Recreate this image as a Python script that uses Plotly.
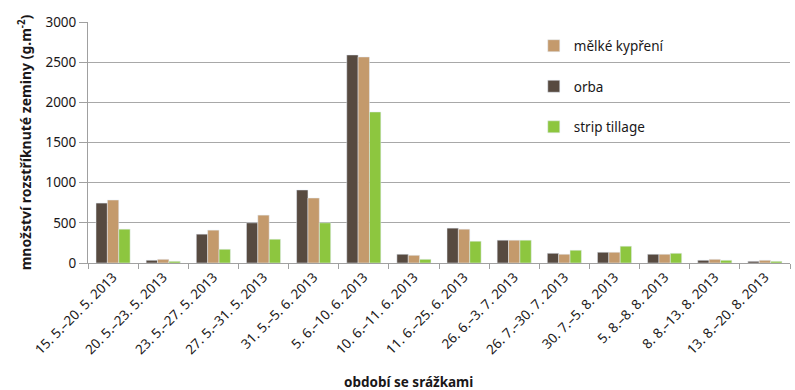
import plotly.graph_objects as go

# Rain periods (x categories)
periods = [
    "15. 5.–20. 5. 2013", "20. 5.–23. 5. 2013", "23. 5.–27. 5. 2013",
    "27. 5.–31. 5. 2013", "31. 5.–5. 6. 2013", "5. 6.–10. 6. 2013",
    "10. 6.–11. 6. 2013", "11. 6.–25. 6. 2013", "26. 6.–3. 7. 2013",
    "26. 7.–30. 7. 2013", "30. 7.–5. 8. 2013", "5. 8.–8. 8. 2013",
    "8. 8.–13. 8. 2013", "13. 8.–20. 8. 2013",
]

# Splashed soil amount (g.m-2) per tillage variant
orba = [746, 34, 359, 500, 909, 2590, 109, 434, 284, 121, 134, 109, 34, 21]
melke_kypreni = [784, 46, 409, 596, 809, 2565, 96, 421, 284, 109, 134, 109, 46, 34]
strip_tillage = [421, 21, 171, 296, 500, 1880, 46, 271, 284, 159, 209, 121, 34, 21]

y_ticks = [0, 500, 1000, 1500, 2000, 2500, 3000]

FONT = "Noto Sans"
TEXT = "#1a1718"

fig = go.Figure()
fig.add_trace(go.Bar(x=periods, y=orba, name="orba", marker_color="#574a40",
                     legendrank=2, legendgroup="b"))
fig.add_trace(go.Bar(x=periods, y=melke_kypreni, name="mělké kypření", marker_color="#c49a6c",
                     legendrank=1, legendgroup="a"))
fig.add_trace(go.Bar(x=periods, y=strip_tillage, name="strip tillage", marker_color="#8dc63f",
                     legendrank=3, legendgroup="c"))

plot_w = 795 - 88 - 5
plot_h = 390 - 22 - 127

fig.update_layout(
    width=795, height=390,
    margin=dict(l=88, r=5, t=22, b=127),
    paper_bgcolor="white", plot_bgcolor="white",
    font=dict(family=FONT, size=13, color=TEXT),
    barmode="group", bargap=0.32, bargroupgap=0,
    showlegend=True,
    legend=dict(x=0.635, y=0.965, xanchor="left", yanchor="top",
                bgcolor="rgba(0,0,0,0)", tracegroupgap=20, itemwidth=30,
                font=dict(family=FONT, size=13.5, color=TEXT)),
    annotations=[dict(text="<b>období se srážkami</b>",
                      x=(408 - 88) / plot_w, xref="paper", xanchor="center",
                      y=(263 - 382) / plot_h, yref="paper", yanchor="middle",
                      showarrow=False, font=dict(family=FONT, size=13.5, color=TEXT))],
)

fig.update_xaxes(
    type="category", tickangle=-45, showgrid=False,
    showline=True, linecolor="#a0a0a0", linewidth=1,
    ticks="outside", ticklen=5, tickcolor="#a0a0a0", tickson="boundaries",
    tickfont=dict(family=FONT, size=13.5, color=TEXT),
)
fig.update_yaxes(
    range=[0, 3000], tickvals=y_ticks, showgrid=True, gridcolor="#a8a8a8", gridwidth=1.3,
    showline=True, linecolor="#a0a0a0", linewidth=1,
    ticks="outside", ticklen=8, tickcolor="#a0a0a0", zeroline=False,
    tickfont=dict(family=FONT, size=13.5, color=TEXT),
    title=dict(text="<b>množství rozstříknuté zeminy (g.m<sup>-2</sup>)</b>",
               font=dict(family=FONT, size=14, color=TEXT), standoff=10),
)

fig.write_html("out.html")
